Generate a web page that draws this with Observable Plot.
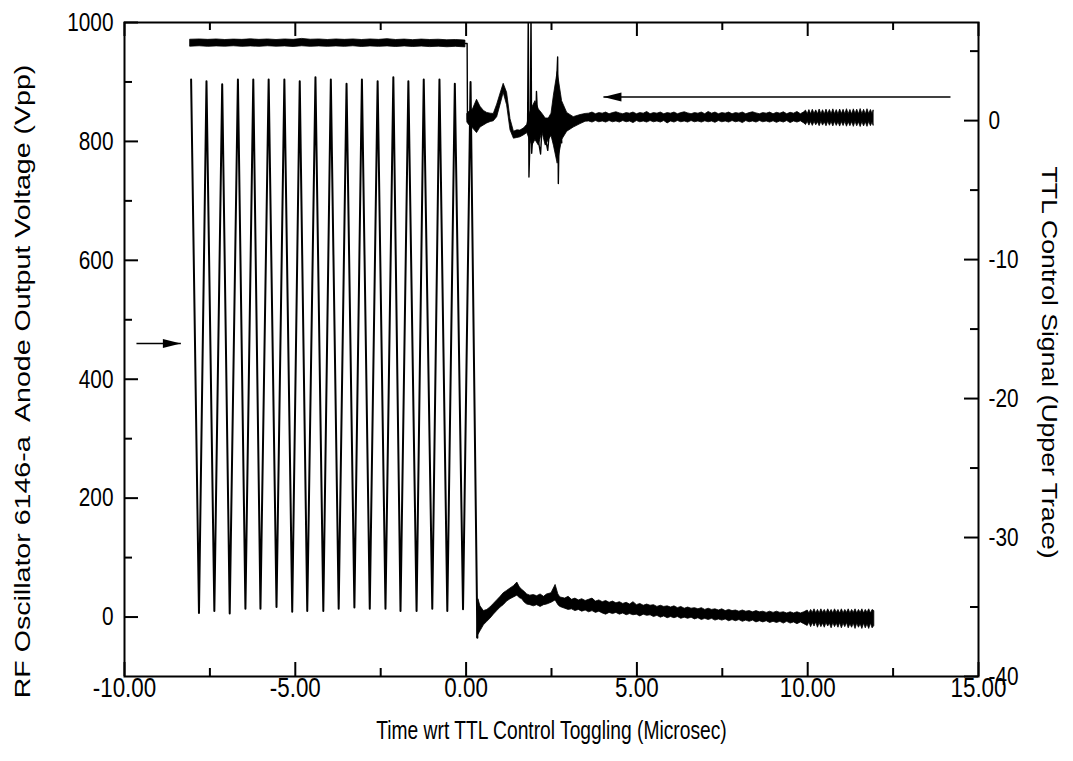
<!DOCTYPE html>
<html><head><meta charset="utf-8">
<script src="https://cdn.jsdelivr.net/npm/d3@7"></script>
<script src="https://cdn.jsdelivr.net/npm/@observablehq/plot@0.6"></script>
<style>body{margin:0;background:#fff}</style>
</head><body><div id="chart"></div>
<script>
// ---------- data ----------
// RF oscillator trace (left axis, Vpp): peaks and troughs until turn-off
const rfX = [-8.05,-7.82,-7.60,-7.37,-7.14,-6.92,-6.68,-6.46,-6.23,-6.02,-5.78,-5.55,-5.32,-5.09,-4.87,-4.65,-4.41,-4.18,-3.96,-3.73,-3.50,-3.27,-3.05,-2.82,-2.59,-2.36,-2.13,-1.92,-1.69,-1.45,-1.24,-0.99,-0.78,-0.55,-0.33,-0.09,0.13,0.33];
const rfY = [904,7,901,10,896,6,904,14,904,14,904,17,904,9,901,10,908,10,904,14,897,16,904,14,901,14,908,10,901,10,904,14,904,10,897,13,900,-35];
// RF trace after turn-off: noisy band [x, lower edge, upper edge] (Vpp)
const rfTail = [[0.33,-35,-22],[0.36,-30,30],[0.42,-24,18],[0.52,-14,10],[0.62,-8,12],[0.71,-3,16],[0.81,4,22],[0.91,10,28],[1.01,16,34],[1.10,20,40],[1.20,26,44],[1.30,30,48],[1.40,33,52],[1.50,36,58],[1.57,32,50],[1.64,30,46],[1.72,24,42],[1.79,21,38],[1.88,20,36],[1.98,18,37],[2.08,20,35],[2.18,17,38],[2.28,20,34],[2.37,21,38],[2.50,24,40],[2.62,28,54],[2.70,20,38],[2.76,17,33],
  [2.9,14,31],[3.0,12,34],[3.1,13,29],[3.2,10,31],[3.3,12,28],[3.4,9,30],[3.5,11,27],[3.6,8,29],[3.7,10,31],[3.8,7,26],[3.9,9,28],[4.0,6,25],[4.1,4,27],[4.2,7,24],[4.3,5,26],[4.4,7,23],[4.5,4,25],[4.6,6,22],[4.7,3,24],[4.8,5,21],[4.9,3,25],[5.0,4,20],[5.1,1,22],[5.2,4,19],[5.3,2,21],[5.4,3,19],[5.5,0,20],[5.6,2,17],[5.7,-1,19],[5.8,1,17],[5.9,-2,18],[6.0,0,16],[6.1,-2,18],[6.2,0,15],[6.3,-3,17],[6.4,-1,14],[6.5,-3,16],[6.6,-1,14],[6.7,-4,15],[6.8,-2,13],[6.9,-5,15],[7.0,-3,12],[7.1,-5,14],[7.2,-3,12],[7.3,-6,13],[7.4,-4,11],[7.5,-6,13],[7.6,-4,10],[7.7,-7,12],[7.8,-5,10],[7.9,-7,11],[8.0,-5,9],[8.1,-8,11],[8.2,-6,9],[8.3,-8,10],[8.4,-6,8],[8.5,-9,10],[8.6,-7,8],[8.7,-9,9],[8.8,-7,7],[8.9,-10,9],[9.0,-8,7],[9.1,-10,9],[9.2,-8,7],[9.3,-11,8],[9.4,-8,6],[9.5,-11,8],[9.6,-9,6],[9.7,-12,8],[9.8,-9,6],[9.9,-12,8],
  [10.00,-15,11],[10.05,-9,6],[10.10,-17,12],[10.15,-10,7],[10.20,-16,13],[10.25,-9,6],[10.30,-18,12],[10.35,-10,6],[10.40,-17,13],[10.45,-11,7],[10.50,-18,12],[10.55,-10,6],[10.60,-16,13],[10.65,-11,7],[10.70,-19,12],[10.75,-10,6],[10.80,-17,13],[10.85,-11,7],[10.90,-18,12],[10.95,-10,6],[11.00,-19,13],[11.05,-11,6],[11.10,-17,12],[11.15,-10,7],[11.20,-19,13],[11.25,-12,6],[11.30,-18,12],[11.35,-11,7],[11.40,-20,13],[11.45,-11,6],[11.50,-18,12],[11.55,-12,7],[11.60,-20,13],[11.65,-11,6],[11.70,-19,12],[11.75,-12,7],[11.80,-20,13],[11.85,-11,6],[11.90,-19,12],[11.95,-15,10]];
// TTL control signal (right axis, volts): high level before toggling [x, lower, upper]
const ttlHigh = [[-8.07,5.32,5.82],[-7.8,5.35,5.84],[-7.55,5.31,5.81],[-7.3,5.34,5.84],[-7.05,5.32,5.80],[-6.8,5.35,5.83],[-6.55,5.31,5.81],[-6.3,5.34,5.85],[-6.05,5.31,5.81],[-5.8,5.35,5.84],[-5.55,5.32,5.80],[-5.3,5.34,5.84],[-5.05,5.30,5.81],[-4.8,5.35,5.88],[-4.55,5.31,5.82],[-4.3,5.34,5.84],[-4.05,5.31,5.80],[-3.8,5.34,5.84],[-3.55,5.31,5.81],[-3.3,5.35,5.84],[-3.05,5.30,5.80],[-2.8,5.34,5.84],[-2.55,5.31,5.81],[-2.3,5.34,5.86],[-2.05,5.30,5.80],[-1.8,5.34,5.83],[-1.55,5.30,5.79],[-1.3,5.33,5.83],[-1.05,5.29,5.80],[-0.8,5.32,5.82],[-0.55,5.28,5.78],[-0.3,5.31,5.80],[-0.02,5.27,5.76]];
// TTL after toggling: noisy band with ringing [x, lower, upper] (volts)
const ttlPost = [[0.04,-0.15,0.50],[0.10,-0.35,0.65],[0.20,-0.55,0.80],[0.32,-0.90,1.50],[0.42,-0.50,1.00],[0.52,-0.35,0.70],[0.62,-0.20,0.55],[0.72,-0.10,0.50],[0.81,-0.05,0.48],[0.91,0.25,1.15],[1.01,1.15,1.95],[1.10,2.00,2.65],[1.20,1.10,2.00],[1.30,-0.70,0.10],[1.40,-1.30,-0.80],[1.50,-1.25,-0.70],[1.59,-1.20,-0.72],[1.70,-1.05,-0.55],[1.79,-0.90,-0.30],[1.87,-1.40,0.55],[1.94,-1.80,0.95],[2.03,-1.40,1.40],[2.13,-1.80,0.80],[2.23,-0.80,0.50],[2.33,-1.80,0.15],[2.42,-1.40,0.15],[2.50,-1.10,0.50],[2.57,-1.80,1.80],[2.68,-3.10,3.50],[2.81,-1.40,1.40],[2.96,-0.80,0.55],[3.15,-0.50,0.25],[3.35,-0.25,0.40],[3.5,-0.08,0.48],
  [3.6,-0.06,0.50],[3.7,-0.14,0.58],[3.8,-0.03,0.46],[3.9,-0.12,0.54],[4.0,-0.06,0.50],[4.1,-0.14,0.58],[4.2,-0.03,0.46],[4.3,-0.12,0.54],[4.4,-0.06,0.60],[4.5,-0.14,0.52],[4.6,-0.03,0.46],[4.7,-0.12,0.54],[4.8,-0.06,0.50],[4.9,-0.18,0.58],[5.0,-0.03,0.46],[5.1,-0.12,0.54],[5.2,-0.06,0.50],[5.3,-0.14,0.62],[5.4,-0.03,0.46],[5.5,-0.12,0.54],[5.6,-0.06,0.50],[5.7,-0.14,0.58],[5.8,-0.03,0.46],[5.9,-0.20,0.54],[6.0,-0.06,0.50],[6.1,-0.14,0.58],[6.2,-0.03,0.46],[6.3,-0.12,0.54],[6.4,-0.06,0.60],[6.5,-0.14,0.52],[6.6,-0.03,0.46],[6.7,-0.12,0.54],[6.8,-0.06,0.50],[6.9,-0.14,0.58],[7.0,-0.05,0.46],[7.1,-0.12,0.62],[7.2,-0.06,0.50],[7.3,-0.16,0.58],[7.4,-0.03,0.46],[7.5,-0.12,0.54],[7.6,-0.06,0.50],[7.7,-0.14,0.58],[7.8,-0.03,0.46],[7.9,-0.12,0.54],[8.0,-0.06,0.50],[8.1,-0.18,0.58],[8.2,-0.03,0.46],[8.3,-0.12,0.54],[8.4,-0.06,0.60],[8.5,-0.14,0.52],[8.6,-0.03,0.46],[8.7,-0.12,0.54],[8.8,-0.06,0.50],[8.9,-0.14,0.58],[9.0,-0.05,0.46],[9.1,-0.16,0.56],[9.2,-0.06,0.50],[9.3,-0.14,0.60],[9.4,-0.03,0.46],[9.5,-0.18,0.56],[9.6,-0.06,0.50],[9.7,-0.14,0.62],[9.8,-0.05,0.46],[9.9,-0.20,0.60],
  [9.95,-0.32,0.72],[10.00,-0.08,0.46],[10.05,-0.36,0.76],[10.10,-0.10,0.45],[10.15,-0.38,0.78],[10.20,-0.08,0.47],[10.25,-0.34,0.74],[10.30,-0.11,0.45],[10.35,-0.40,0.80],[10.40,-0.09,0.46],[10.45,-0.36,0.75],[10.50,-0.12,0.44],[10.55,-0.41,0.79],[10.60,-0.08,0.47],[10.65,-0.37,0.77],[10.70,-0.10,0.45],[10.75,-0.42,0.81],[10.80,-0.09,0.46],[10.85,-0.38,0.76],[10.90,-0.12,0.44],[10.95,-0.43,0.80],[11.00,-0.10,0.47],[11.05,-0.39,0.78],[11.10,-0.09,0.45],[11.15,-0.44,0.82],[11.20,-0.11,0.46],[11.25,-0.40,0.77],[11.30,-0.10,0.44],[11.35,-0.45,0.81],[11.40,-0.09,0.47],[11.45,-0.41,0.79],[11.50,-0.12,0.45],[11.55,-0.46,0.83],[11.60,-0.10,0.46],[11.65,-0.42,0.78],[11.70,-0.11,0.44],[11.75,-0.45,0.82],[11.80,-0.09,0.47],[11.85,-0.40,0.77],[11.90,-0.12,0.45],[11.93,-0.38,0.74]];
// TTL thin-line parts: falling edge and the spikes [x, volts, group]
const ttlLine = [[-0.02,5.55,0],[0.03,5.55,0],[0.04,0.1,0],
  [1.80,-0.5,1],[1.82,7.9,1],[1.84,-4.06,1],[1.88,-0.5,1],[1.90,7.9,1],[1.92,-2.35,1],[1.96,-0.8,1],
  [2.03,-1.0,2],[2.06,2.10,2],[2.12,-1.5,2],[2.18,-2.40,2],[2.24,0.3,2],[2.30,-1.0,2],[2.39,-2.14,2],[2.45,-0.5,2],
  [2.60,-0.5,3],[2.68,4.58,3],[2.70,-4.53,3],[2.74,1.8,3],[2.80,-1.6,3]];
// annotation arrows
const rfArrow  = {x1: -9.65, x2: -8.35, y: 460};   // left axis units
const ttlArrow = {x1: 14.18, x2: 4.02, y: 1.7};    // right axis units
// axes
const xMajor = [-10,-5,0,5,10,15], xMinor = [-7.5,-2.5,2.5,7.5,12.5];
const yMajor = [0,200,400,600,800,1000], yMinor = [100,300,500,700,900];
const rMajor = [-40,-30,-20,-10,0], rMinor = [-35,-25,-15,-5,5];
const xTitle = "Time wrt TTL Control Toggling (Microsec)";
const yTitle = "RF Oscillator 6146-a  Anode Output Voltage (Vpp)";
const rTitle = "TTL Control Signal (Upper Trace)";

// ---------- build ----------
const W = 1073, H = 761, mL = 124, mR = 95, mT = 22, mB = 85;
const fw = W - mL - mR, fh = H - mT - mB;
const toLeft = d3.scaleLinear().domain([-40, 7.06]).range([-100, 1000]);
const rf = rfX.map((x, i) => ({x, y: rfY[i]}));
const tail = rfTail.map(([x, lo, hi]) => ({x, lo, hi}));
const high = ttlHigh.map(([x, lo, hi]) => ({x, lo: toLeft(lo), hi: toLeft(hi)}));
const post = ttlPost.map(([x, lo, hi]) => ({x, lo: toLeft(lo), hi: toLeft(hi)}));
const thin = ttlLine.map(([x, v, g]) => ({x, y: toLeft(v), g}));
const arrows = [
  {x1: rfArrow.x1, x2: rfArrow.x2, y: rfArrow.y, dir: "r"},
  {x1: ttlArrow.x1, x2: ttlArrow.x2, y: toLeft(ttlArrow.y), dir: "l"}
];
const headR = {draw(c) { c.moveTo(0, 0); c.lineTo(-18, -4.5); c.lineTo(-18, 4.5); c.closePath(); }};
const headL = {draw(c) { c.moveTo(0, 0); c.lineTo(18, -4.5); c.lineTo(18, 4.5); c.closePath(); }};
const fmtR = d => String(Math.round(toLeft.invert(d)) || 0);
const band = {x: "x", y1: "lo", y2: "hi", fill: "black", stroke: "black", strokeWidth: 0.8};

const chart = Plot.plot({
  width: W, height: H,
  marginLeft: mL, marginRight: mR, marginTop: mT, marginBottom: mB,
  x: {domain: [-10, 15]},
  y: {domain: [-100, 1000]},
  style: {fontFamily: "'Liberation Sans', Arial, sans-serif", background: "white", color: "black"},
  marks: [
    // traces
    Plot.areaY(high, band),
    Plot.areaY(post, band),
    Plot.line(thin, {x: "x", y: "y", z: "g", stroke: "black", strokeWidth: 1.4, clip: true}),
    Plot.line(rf, {x: "x", y: "y", stroke: "black", strokeWidth: 2}),
    Plot.areaY(tail, band),
    // arrows
    Plot.link(arrows, {x1: "x1", x2: "x2", y1: "y", y2: "y", stroke: "black", strokeWidth: 1.5}),
    Plot.dot(arrows.filter(d => d.dir === "r"), {x: "x2", y: "y", symbol: headR, fill: "black", stroke: "none"}),
    Plot.dot(arrows.filter(d => d.dir === "l"), {x: "x2", y: "y", symbol: headL, fill: "black", stroke: "none"}),
    // inward ticks
    Plot.tickX(xMajor, {x: d => d, insetTop: fh - 14, stroke: "black", strokeWidth: 2}),
    Plot.tickX(xMinor, {x: d => d, insetTop: fh - 8, stroke: "black", strokeWidth: 2}),
    Plot.tickX(xMajor, {x: d => d, insetBottom: fh - 14, stroke: "black", strokeWidth: 2}),
    Plot.tickX(xMinor, {x: d => d, insetBottom: fh - 8, stroke: "black", strokeWidth: 2}),
    Plot.tickY(yMajor, {y: d => d, insetRight: fw - 14, stroke: "black", strokeWidth: 2}),
    Plot.tickY(yMinor, {y: d => d, insetRight: fw - 8, stroke: "black", strokeWidth: 2}),
    Plot.tickY(rMajor.map(toLeft), {y: d => d, insetLeft: fw - 14, stroke: "black", strokeWidth: 2}),
    Plot.tickY(rMinor.map(toLeft), {y: d => d, insetLeft: fw - 8, stroke: "black", strokeWidth: 2}),
    Plot.frame({stroke: "black", strokeWidth: 2}),
    // tick labels
    Plot.axisX(xMajor, {anchor: "bottom", tickSize: 0, tickPadding: 1, tickFormat: d => d.toFixed(2), fontSize: 28, label: null}),
    Plot.axisY(yMajor, {anchor: "left", tickSize: 0, tickPadding: 11, tickFormat: d => String(d), fontSize: 26, label: null}),
    Plot.axisY(rMajor.map(toLeft), {anchor: "right", tickSize: 0, tickPadding: 10, tickFormat: fmtR, fontSize: 26, label: null}),
    // axis titles
    Plot.text([xTitle], {frameAnchor: "bottom", dy: 54, text: d => d, textAnchor: "middle", lineAnchor: "middle", fontSize: 26}),
    Plot.text([yTitle], {frameAnchor: "left", dx: -102, dy: 32, text: d => d, rotate: -90, textAnchor: "middle", lineAnchor: "middle", fontSize: 28.6}),
    Plot.text([rTitle], {frameAnchor: "right", dx: 70, dy: 13, text: d => d, rotate: 90, textAnchor: "middle", lineAnchor: "middle", fontSize: 26.6})
  ]
});

// the reference lettering is tall and narrow: squash every label horizontally
chart.querySelectorAll("text").forEach(t => {
  const num = a => { const v = t.getAttribute(a); return v != null && /^-?[\d.]+$/.test(v) ? +v : null; };
  const x = num("x"), y = num("y");
  let tr = t.getAttribute("transform") || "";
  if (x != null || y != null) {
    tr += ` translate(${x || 0},${y || 0})`;
    if (x != null) t.removeAttribute("x");
    if (y != null) t.removeAttribute("y");
  }
  const k = t.textContent === xTitle ? 0.74 : 0.8;
  tr += /rotate\(/.test(tr) ? ` scale(1,${k})` : ` scale(${k},1)`;
  t.setAttribute("transform", tr.trim());
});
document.getElementById("chart").appendChild(chart);
</script>
</body></html>
